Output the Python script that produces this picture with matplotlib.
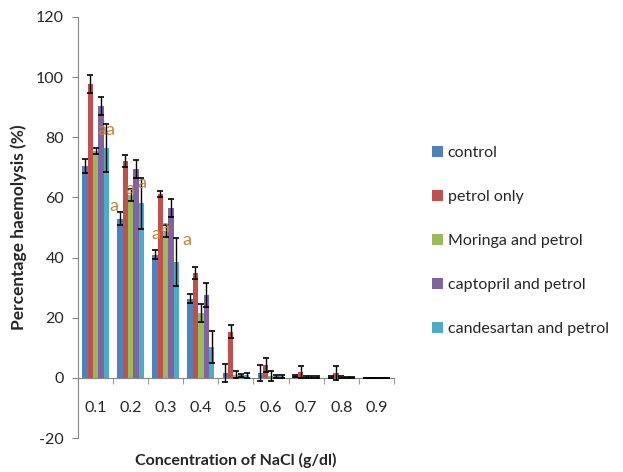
import numpy as np
import matplotlib
matplotlib.use('Agg')
import matplotlib.pyplot as plt
from matplotlib.patches import Patch

plt.rcParams['font.family'] = ['Lato', 'DejaVu Sans']
plt.rcParams['axes.unicode_minus'] = False

# concentrations of NaCl (g/dl)
concentrations = ['0.1', '0.2', '0.3', '0.4', '0.5', '0.6', '0.7', '0.8', '0.9']

series_names = ['control', 'petrol only', 'Moringa and petrol',
                'captopril and petrol', 'candesartan and petrol']
series_colors = ['#4F81BD', '#C0504D', '#9BBB59', '#8064A2', '#4BACC6']

# mean haemolysis (%)
control = [70.4, 52.9, 41.0, 26.3, 1.5, 1.5, 0.5, 0.3, 0.0]
petrol_only = [97.7, 72.1, 61.0, 34.9, 15.4, 4.3, 2.1, 1.5, 0.0]
moringa = [75.4, 60.8, 48.8, 21.6, 1.0, 0.6, 0.4, 0.3, 0.0]
captopril = [90.4, 69.3, 56.5, 27.7, 0.8, 0.5, 0.4, 0.2, 0.0]
candesartan = [76.5, 58.0, 38.4, 10.2, 0.8, 0.5, 0.3, 0.2, 0.0]

# error bar half widths
control_err = [2.3, 2.2, 1.5, 1.5, 3.0, 2.7, 0.3, 0.2, 0.0]
petrol_only_err = [3.0, 2.0, 1.0, 2.0, 2.3, 2.2, 2.0, 2.3, 0.0]
moringa_err = [1.1, 2.0, 2.0, 3.0, 1.2, 1.7, 0.3, 0.2, 0.0]
captopril_err = [3.0, 3.0, 3.0, 4.0, 0.5, 0.4, 0.3, 0.2, 0.0]
candesartan_err = [8.0, 8.6, 8.0, 5.3, 0.8, 0.4, 0.3, 0.2, 0.0]

means = [control, petrol_only, moringa, captopril, candesartan]
errors = [control_err, petrol_only_err, moringa_err, captopril_err, candesartan_err]

# significance letters
sig_text = 'a'

fig = plt.figure(figsize=(6.23, 4.72), dpi=100)
ax = fig.add_axes([0.1252, 0.072, 0.507, 0.892])

x = np.arange(len(concentrations))
w = 0.152
for k, (vals, errs) in enumerate(zip(means, errors)):
    pos = x + (k - 2) * w
    ax.bar(pos, vals, width=w, color=series_colors[k], edgecolor='none', zorder=2)
    ax.errorbar(pos, vals, yerr=errs, fmt='none', ecolor='black',
                elinewidth=1.0, capsize=2.2, capthick=1.2, zorder=3)

# letters placed as in the original chart (group index + offset, height)
sig_positions = [(0, 0.19, 82.5), (0, 0.42, 82.5),
                 (1, -0.48, 57), (1, -0.02, 62.7), (1, 0.32, 64.7),
                 (2, -0.28, 47.7), (2, -0.03, 50.2), (2, 0.59, 46)]
for g, dx, yv in sig_positions:
    ax.text(g + dx, yv, sig_text, color='#C8843A', fontsize=13,
            ha='center', va='center', zorder=4)

ax.set_xlim(-0.5, len(concentrations) - 0.5)
ax.set_ylim(-20, 120)
ax.set_yticks(np.arange(-20, 121, 20))

ax.spines['top'].set_visible(False)
ax.spines['right'].set_visible(False)
ax.spines['bottom'].set_position(('data', 0))
ax.spines['left'].set_color('#868686')
ax.spines['bottom'].set_color('#868686')

ax.set_xticks(x)
ax.set_xticklabels(concentrations)
ax.set_xticks(np.arange(-0.5, len(concentrations)), minor=True)
ax.tick_params(axis='x', which='major', length=0, pad=17, labelsize=11.5,
               labelcolor='#262626')
ax.tick_params(axis='x', which='minor', length=4.5, color='#868686', direction='out')
ax.tick_params(axis='y', length=4, pad=6, color='#868686', labelsize=11.5,
               labelcolor='#262626')

ax.set_ylabel('Percentage haemolysis (%)', fontsize=12.5, fontweight='bold',
              color='#262626')
ax.yaxis.set_label_coords(-0.162, 0.5)
ax.set_xlabel('Concentration of NaCl (g/dl)', fontsize=11.5, fontweight='bold',
              color='#262626')
ax.xaxis.set_label_coords(0.5, -0.035)

handles = [Patch(facecolor=c, edgecolor='none') for c in series_colors]
fig.legend(handles, series_names, loc='upper left', bbox_to_anchor=(0.693, 0.691),
           frameon=False, fontsize=11.5, handlelength=0.7, handleheight=0.7,
           handletextpad=0.3, labelspacing=1.87, borderpad=0, borderaxespad=0,
           labelcolor='#262626')

fig.savefig('out.png', dpi=100)
